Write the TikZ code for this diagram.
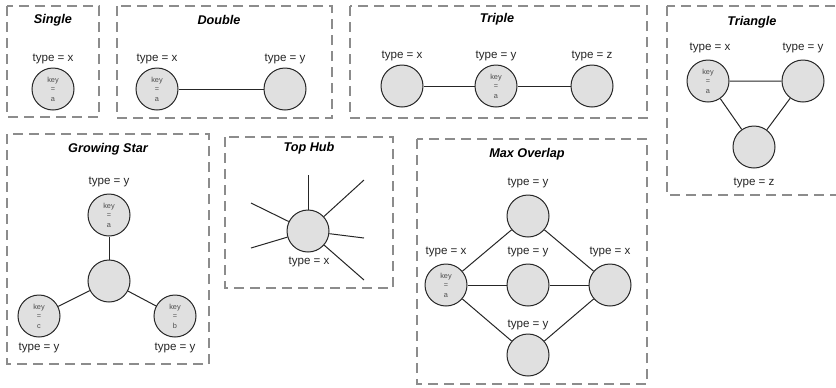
\documentclass[tikz,border=0pt]{standalone}
\usepackage{fontspec}
\setmainfont{Liberation Sans}

\tikzset{
  vert/.style={circle, draw=black!85, fill=black!12, line width=0.75pt,
    minimum size=31.5pt, inner sep=0pt, align=center, text=black!70,
    font=\fontsize{5.5}{7.1}\selectfont},
  tlabel/.style={inner sep=0pt, text=black!85, font=\fontsize{8.7}{10}\selectfont},
  title/.style={inner sep=0pt, font=\fontsize{9.5}{11}\selectfont\bfseries\itshape},
  frame/.style={draw=black!45, line width=1.5pt, dash pattern=on 7.5pt off 4.5pt},
  edge/.style={draw=black!85, line width=0.75pt}
}

\begin{document}
\begin{tikzpicture}[x=0.75pt, y=-0.75pt]
        \useasboundingbox (0,0) rectangle (836,387);

        % Frames
        \draw[frame] (7,6) rectangle (99,117);
        \draw[frame] (117,6) rectangle (332,118);
        \draw[frame] (350,6) rectangle (647,118);
        \draw[frame] (667,6) rectangle (842,195);
        \draw[frame] (7,134) rectangle (209,364);
        \draw[frame] (225,137) rectangle (393,288);
        \draw[frame] (417,139) rectangle (647,384);

        % Single
        \node[title] (tSingle) at (53,20) {Single};
        \node[vert] (s1) at (53,89) {key\\=\\a};
        \node[tlabel] (ls1) at (53,59) {type = x};

        % Double
        \node[title] (tDouble) at (219,20) {Double};
        \node[vert] (d1) at (157,89) {key\\=\\a};
        \node[vert] (d2) at (285,89) {};
        \node[tlabel] (ld1) at (157,59) {type = x};
        \node[tlabel] (ld2) at (285,59) {type = y};
        \draw[edge] (d1) -- (d2);

        % Triple
        \node[title] (tTriple) at (497,19) {Triple};
        \node[vert] (p1) at (402,86) {};
        \node[vert] (p2) at (496,86) {key\\=\\a};
        \node[vert] (p3) at (592,86) {};
        \node[tlabel] (lp1) at (402,56) {type = x};
        \node[tlabel] (lp2) at (496,56) {type = y};
        \node[tlabel] (lp3) at (592,56) {type = z};
        \draw[edge] (p1) -- (p2) -- (p3);

        % Triangle
        \node[title] (tTriangle) at (752,22) {Triangle};
        \node[vert] (r1) at (708,81) {key\\=\\a};
        \node[vert] (r2) at (803,81) {};
        \node[vert] (r3) at (754,147) {};
        \node[tlabel] (lr1) at (710,48) {type = x};
        \node[tlabel] (lr2) at (803,48) {type = y};
        \node[tlabel] (lr3) at (754,183) {type = z};
        \draw[edge] (r1) -- (r2) -- (r3) -- (r1);

        % Growing Star
        \node[title] (tStar) at (108,149) {Growing Star};
        \node[vert] (g0) at (109,281) {};
        \node[vert] (ga) at (109,215) {key\\=\\a};
        \node[vert] (gc) at (39,316) {key\\=\\c};
        \node[vert] (gb) at (175,316) {key\\=\\b};
        \node[tlabel] (lga) at (109,182) {type = y};
        \node[tlabel] (lgc) at (39,348) {type = y};
        \node[tlabel] (lgb) at (175,348) {type = y};
        \draw[edge] (g0) -- (ga);
        \draw[edge] (g0) -- (gc);
        \draw[edge] (g0) -- (gb);

        % Top Hub
        \node[title] (tHub) at (309,148) {Top Hub};
        \node[vert] (h0) at (308,231) {};
        \node[tlabel] (lh0) at (309,262) {type = x};
        \coordinate (h1) at (308,175);
        \coordinate (h2) at (364,180);
        \coordinate (h3) at (251,203);
        \coordinate (h4) at (251,248);
        \coordinate (h5) at (364,238);
        \coordinate (h6) at (364,280);
        \foreach \e in {h1,h2,h3,h4,h5,h6}
          \draw[edge] (h0) -- (\e);

        % Max Overlap
        \node[title] (tOverlap) at (527,154) {Max Overlap};
        \node[vert] (m1) at (446,285) {key\\=\\a};
        \node[vert] (m2) at (528,216) {};
        \node[vert] (m3) at (528,285) {};
        \node[vert] (m4) at (528,355) {};
        \node[vert] (m5) at (610,285) {};
        \node[tlabel] (lm1) at (446,252) {type = x};
        \node[tlabel] (lm2) at (528,183) {type = y};
        \node[tlabel] (lm3) at (528,252) {type = y};
        \node[tlabel] (lm4) at (528,325) {type = y};
        \node[tlabel] (lm5) at (610,252) {type = x};
        \foreach \m in {m2,m3,m4}
          \draw[edge] (m1) -- (\m) -- (m5);
    \end{tikzpicture}
\end{document}
